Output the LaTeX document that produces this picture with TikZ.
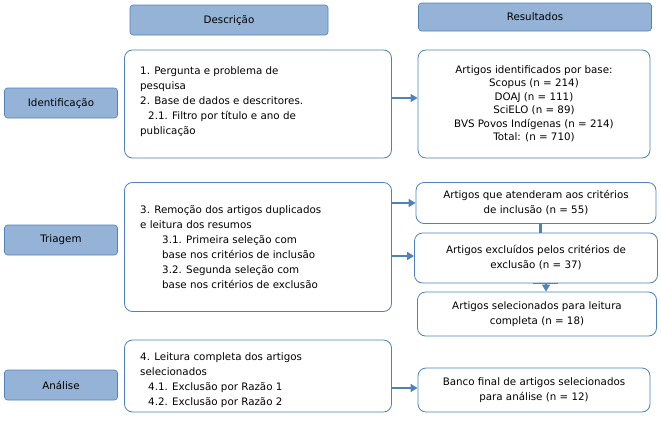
\documentclass[tikz,border=0pt]{standalone}
\usepackage{fontspec}
\setmainfont{DejaVu Sans}
\usetikzlibrary{arrows.meta}
\definecolor{bord}{HTML}{4F81BD}
\definecolor{hdr}{HTML}{95B3D7}
\tikzset{
 hbox/.style={draw=bord,fill=hdr,rounded corners=3pt,line width=0.6pt,font=\fontsize{10.3}{13}\selectfont},
 wbox/.style={draw=bord,fill=white,rounded corners=8pt,line width=0.8pt,font=\fontsize{10.3}{15}\selectfont},
 txt/.style={anchor=north west,font=\fontsize{10.3}{15}\selectfont,align=left,inner sep=0pt},
 conn/.style={draw=bord,line width=1.4pt,-{Triangle[length=7pt,width=8pt]}}
}
\begin{document}
\begin{tikzpicture}[x=1pt,y=-1pt]
\useasboundingbox (0,0) rectangle (661,439);
\node[hbox,minimum width=198pt,minimum height=30pt] (hd) at (229,20) {Descrição};
\node[hbox,minimum width=233pt,minimum height=28pt] (hr) at (535,17) {Resultados};
\node[hbox,minimum width=113pt,minimum height=30pt] (l1) at (61,103) {Identificação};
\node[hbox,minimum width=113pt,minimum height=30pt] (l2) at (61,240) {Triagem};
\node[hbox,minimum width=113pt,minimum height=30pt] (l3) at (61,385) {Análise};

\node[wbox,minimum width=267pt,minimum height=108pt] (d1) at (258,104) {};
\node[txt] at (140,66) {1. Pergunta e problema de\\pesquisa\\2. Base de dados e descritores.\\\hspace{8pt}2.1. Filtro por título e ano de\\publicação};
\node[wbox,minimum width=232pt,minimum height=108pt,align=center] (r1) at (534,104) {Artigos identificados por base:\\[-1.5pt]Scopus (n = 214)\\[-1.5pt]DOAJ (n = 111)\\[-1.5pt]SciELO (n = 89)\\[-1.5pt]BVS Povos Indígenas (n = 214)\\[-1.5pt]Total: (n = 710)};

\node[wbox,minimum width=267pt,minimum height=129pt] (d2) at (258,247) {};
\node[txt] at (140,205) {3. Remoção dos artigos duplicados\\e leitura dos resumos\\\hspace{22pt}3.1. Primeira seleção com\\\hspace{22pt}base nos critérios de inclusão\\\hspace{22pt}3.2. Segunda seleção com\\\hspace{22pt}base nos critérios de exclusão};
\node[wbox,minimum width=240pt,minimum height=41pt,align=center] (r2) at (536,203) {Artigos que atenderam aos critérios\\de inclusão (n = 55)};
\node[wbox,minimum width=243pt,minimum height=50pt,align=center] (r3) at (536,258) {Artigos excluídos pelos critérios de\\exclusão (n = 37)};
\node[wbox,minimum width=239pt,minimum height=44pt,align=center] (r4) at (537,314) {Artigos selecionados para leitura\\completa (n = 18)};

\node[wbox,minimum width=267pt,minimum height=72pt] (d3) at (258,376) {};
\node[txt] at (140,352) {4. Leitura completa dos artigos\\selecionados\\\hspace{8pt}4.1. Exclusão por Razão 1\\\hspace{8pt}4.2. Exclusão por Razão 2};
\node[wbox,minimum width=232pt,minimum height=44pt,align=center] (r5) at (534,390) {Banco final de artigos selecionados\\para análise (n = 12)};

\draw[conn] (d1.east|-0,98) -- (r1.west|-0,98);
\draw[conn] (d2.east|-0,203) -- (r2.west|-0,203);
\draw[conn] (d2.east|-0,256) -- (r3.west|-0,256);
\draw[conn] (d3.east|-0,388) -- (r5.west|-0,388);
\draw[draw=bord,line width=3pt] (r2.south-|540,0) -- (r3.north-|540,0);
\draw[conn] (r3.south-|546,0) -- (r4.north-|546,0);
\draw[draw=bord,line width=0.8pt] (533,283) -- (558,283);
\end{tikzpicture}
\end{document}
